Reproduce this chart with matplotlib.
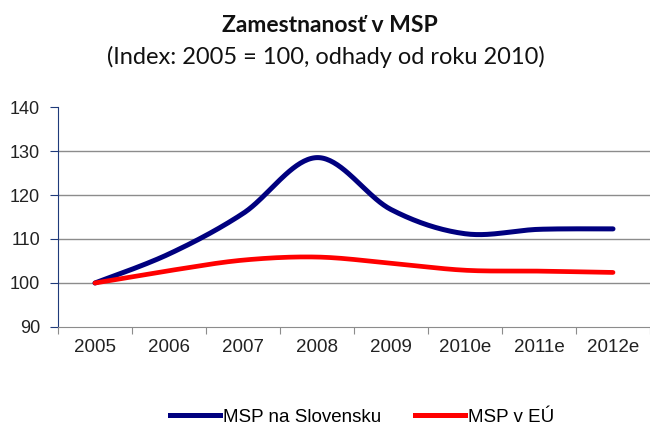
import numpy as np
import matplotlib
matplotlib.use("Agg")
import matplotlib.pyplot as plt
from matplotlib.lines import Line2D

categories = ["2005", "2006", "2007", "2008", "2009", "2010e", "2011e", "2012e"]
msp_sk = [100, 106.6, 115.8, 128.5, 116.7, 111.2, 112.2, 112.3]
msp_eu = [100, 102.8, 105.2, 105.9, 104.5, 102.9, 102.7, 102.4]
y_ticks = [90, 100, 110, 120, 130, 140]


def smooth(y, n=40):
    """Catmull-Rom smoothing (like Excel's smoothed line)."""
    y = np.asarray(y, float)
    x = np.arange(len(y), dtype=float)
    P = np.concatenate([[y[0]], y, [y[-1]]])
    X = np.concatenate([[x[0]], x, [x[-1]]])
    xs, ys = [], []
    for i in range(1, len(P) - 2):
        p0, p1, p2, p3 = P[i - 1], P[i], P[i + 1], P[i + 2]
        x0, x1, x2, x3 = X[i - 1], X[i], X[i + 1], X[i + 2]
        c1y = p1 + (p2 - p0) / 6
        c2y = p2 - (p3 - p1) / 6
        c1x = x1 + (x2 - x0) / 6
        c2x = x2 - (x3 - x1) / 6
        t = np.linspace(0, 1, n, endpoint=(i == len(P) - 3))
        bx = (1 - t) ** 3 * x1 + 3 * (1 - t) ** 2 * t * c1x + 3 * (1 - t) * t ** 2 * c2x + t ** 3 * x2
        by = (1 - t) ** 3 * p1 + 3 * (1 - t) ** 2 * t * c1y + 3 * (1 - t) * t ** 2 * c2y + t ** 3 * p2
        xs.append(bx)
        ys.append(by)
    return np.concatenate(xs), np.concatenate(ys)


fig = plt.figure(figsize=(6.5, 4.25), dpi=100)
ax = fig.add_axes([58 / 650, 1 - 327 / 425, 1 - 58 / 650, (327 - 107) / 425])

blue = "#00007f"
red = "#ff0000"
xs, ys = smooth(msp_sk)
ax.plot(xs, ys, color=blue, lw=3.6, solid_capstyle="round", zorder=3)
xs, ys = smooth(msp_eu)
ax.plot(xs, ys, color=red, lw=3.4, solid_capstyle="round", zorder=3)

ax.set_xlim(-0.5, len(categories) - 0.5)
ax.set_ylim(y_ticks[0], y_ticks[-1])
ax.set_yticks(y_ticks)
for v in y_ticks[1:-1]:
    ax.axhline(v, color="#8c8c8c", lw=1.0, zorder=1)

ax.set_xticks(np.arange(-0.5, len(categories) + 0.5, 1))
ax.set_xticklabels([])
ax.set_xticks(np.arange(len(categories)), minor=True)
ax.set_xticklabels(categories, minor=True)
ax.tick_params(axis="x", which="major", length=5, color="#8c8c8c", direction="out")
ax.tick_params(axis="x", which="minor", length=0, pad=9, labelsize=13.5, labelcolor="#222222")
ax.tick_params(axis="y", length=6, color="#1f3a7a", labelsize=13, labelcolor="#222222", pad=7)
for lab in ax.get_xticklabels(minor=True) + ax.get_yticklabels():
    lab.set_family("Liberation Sans")

for s in ["top", "right"]:
    ax.spines[s].set_visible(False)
ax.spines["left"].set_color("#1f3a7a")
ax.spines["bottom"].set_color("#8c8c8c")

fig.text(0.508, 1 - 25 / 425, "Zamestnanosť v MSP", ha="center", va="center",
         fontsize=16.5, fontweight="bold", family="Lato", color="#111111")
fig.text(0.502, 1 - 57 / 425, "(Index: 2005 = 100, odhady od roku 2010)", ha="center",
         va="center", fontsize=17, family="Lato", color="#111111")

handles = [Line2D([], [], color=blue, lw=3.6), Line2D([], [], color=red, lw=3.6)]
fig.legend(handles, ["MSP na Slovensku", "MSP v EÚ"], loc="center",
           bbox_to_anchor=(362 / 650, 1 - 417 / 425), ncol=2, frameon=False,
           handlelength=2.7, handletextpad=0.15, columnspacing=1.8,
           prop={"family": "Liberation Sans", "size": 13.5})

fig.savefig("out.png", dpi=100)
